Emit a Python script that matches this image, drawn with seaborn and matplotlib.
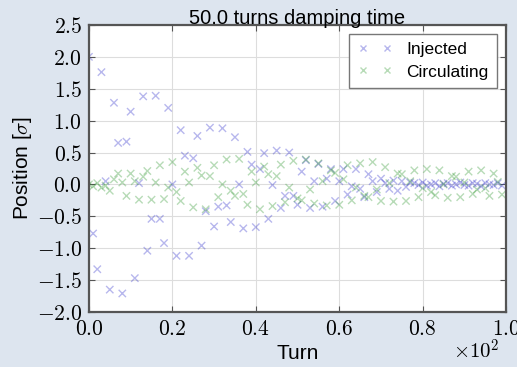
import numpy as np
import pandas as pd
import matplotlib
matplotlib.use("Agg")
import matplotlib.pyplot as plt
from matplotlib.ticker import FuncFormatter
from matplotlib.lines import Line2D
import seaborn as sns

title = "50.0 turns damping time"
series_names = ["Injected", "Circulating"]

turns = list(range(100))

injected = [
    2.00, -0.77, -1.33, 1.76, 0.05, -1.65, 1.28, 0.65, -1.71, 0.67,
    1.14, -1.47, 0.02, 1.38, -1.04, -0.54, 1.39, -0.54, -0.92, 1.20,
    0.00, -1.12, 0.85, 0.45, -1.12, 0.41, 0.76, -0.96, -0.42, 0.89,
    -0.66, -0.35, 0.88, -0.33, -0.59, 0.74, 0.00, -0.69, 0.51, 0.31,
    -0.67, 0.24, 0.49, -0.54, -0.01, 0.53, -0.37, -0.18, 0.50, -0.18,
    -0.32, 0.20, 0.38, -0.37, 0.05, 0.32, -0.35, 0.09, 0.24, -0.26,
    0.05, 0.24, -0.16, -0.03, 0.24, -0.07, -0.20, 0.16, 0.05, -0.12,
    0.09, 0.02, -0.07, 0.06, -0.10, 0.05, -0.04, 0.03, 0.02, -0.01,
    0.03, -0.02, 0.00, 0.02, -0.03, 0.01, 0.02, -0.02, 0.00, 0.03,
    -0.01, -0.02, 0.02, 0.01, -0.03, 0.02, 0.00, -0.01, 0.02, -0.02,
]

circulating = [
    0.00, -0.03, 0.02, -0.05, -0.02, -0.10, 0.08, 0.17, 0.03, -0.18,
    0.17, 0.05, -0.24, 0.12, 0.21, -0.24, 0.03, 0.30, -0.23, -0.05,
    0.35, -0.12, -0.26, 0.20, 0.03, -0.36, 0.26, 0.14, -0.39, 0.13,
    0.30, -0.20, 0.00, 0.39, -0.10, -0.18, 0.40, -0.15, -0.32, 0.20,
    0.03, -0.39, 0.28, 0.16, -0.34, 0.13, 0.31, -0.28, -0.05, 0.37,
    -0.22, -0.25, 0.39, -0.08, -0.30, 0.33, 0.05, -0.33, 0.22, 0.18,
    -0.32, 0.08, 0.30, -0.25, -0.05, 0.33, -0.18, -0.20, 0.35, -0.08,
    -0.26, 0.27, 0.02, -0.27, 0.17, 0.16, -0.26, 0.05, 0.22, -0.20,
    -0.06, 0.24, -0.12, -0.17, 0.22, 0.00, -0.21, 0.13, 0.12, -0.20,
    0.03, 0.20, -0.15, -0.08, 0.22, -0.06, -0.18, 0.17, 0.04, -0.16,
]

x_ticks = [0, 20, 40, 60, 80, 100]
y_ticks = [-2.0, -1.5, -1.0, -0.5, 0.0, 0.5, 1.0, 1.5, 2.0, 2.5]

df = pd.DataFrame({
    "Turn": turns * 2,
    "Position": injected + circulating,
    "Series": [series_names[0]] * len(turns) + [series_names[1]] * len(turns),
})

plt.rcParams["mathtext.fontset"] = "cm"
plt.rcParams["font.family"] = ["Liberation Sans", "DejaVu Sans"]

bg = "#dde5ef"
fig = plt.figure(figsize=(5.17, 3.67), dpi=100, facecolor=bg)
ax = fig.add_axes([0.172, 0.150, 0.807, 0.782])
ax.set_facecolor("white")

colors = {series_names[0]: "#3333cc", series_names[1]: "#339933"}
sns.scatterplot(data=df, x="Turn", y="Position", hue="Series", palette=colors,
                marker="x", s=28, linewidth=1.0, alpha=0.35, legend=False, ax=ax)

ax.set_xlim(0, 100)
ax.set_ylim(-2.0, 2.5)
ax.set_xticks(x_ticks)
ax.set_yticks(y_ticks)
ax.xaxis.set_major_formatter(FuncFormatter(lambda v, p: f"${v/100:.1f}$"))
ax.yaxis.set_major_formatter(FuncFormatter(lambda v, p: f"${v:.1f}$"))
ax.tick_params(direction="in", top=True, right=True, length=4, width=0.8,
               labelsize=15.5, color="#555555", pad=5)
ax.grid(True, color="#dddddd", linewidth=0.8)
ax.set_axisbelow(True)
for sp in ax.spines.values():
    sp.set_color("#555555")
    sp.set_linewidth(1.6)

ax.set_xlabel("Turn", fontsize=15, labelpad=3)
ax.set_ylabel(r"Position [$\sigma$]", fontsize=15, labelpad=2)
ax.set_title(title, fontsize=14.5, pad=1)
ax.text(0.985, -0.135, r"$\times10^{2}$", transform=ax.transAxes, ha="right",
        va="center", fontsize=15)

handles = [Line2D([], [], linestyle="none", marker="x", markersize=5,
                  markeredgewidth=1.0, color=colors[n], alpha=0.35)
           for n in series_names]
leg = ax.legend(handles, series_names, loc="upper right", numpoints=2,
                fontsize=12.5, fancybox=False, framealpha=1, edgecolor="#777777",
                borderaxespad=0.5, handlelength=2.0, labelspacing=0.4,
                borderpad=0.5)
leg.get_frame().set_linewidth(1.0)

fig.savefig("out.png", dpi=100, facecolor=bg)
